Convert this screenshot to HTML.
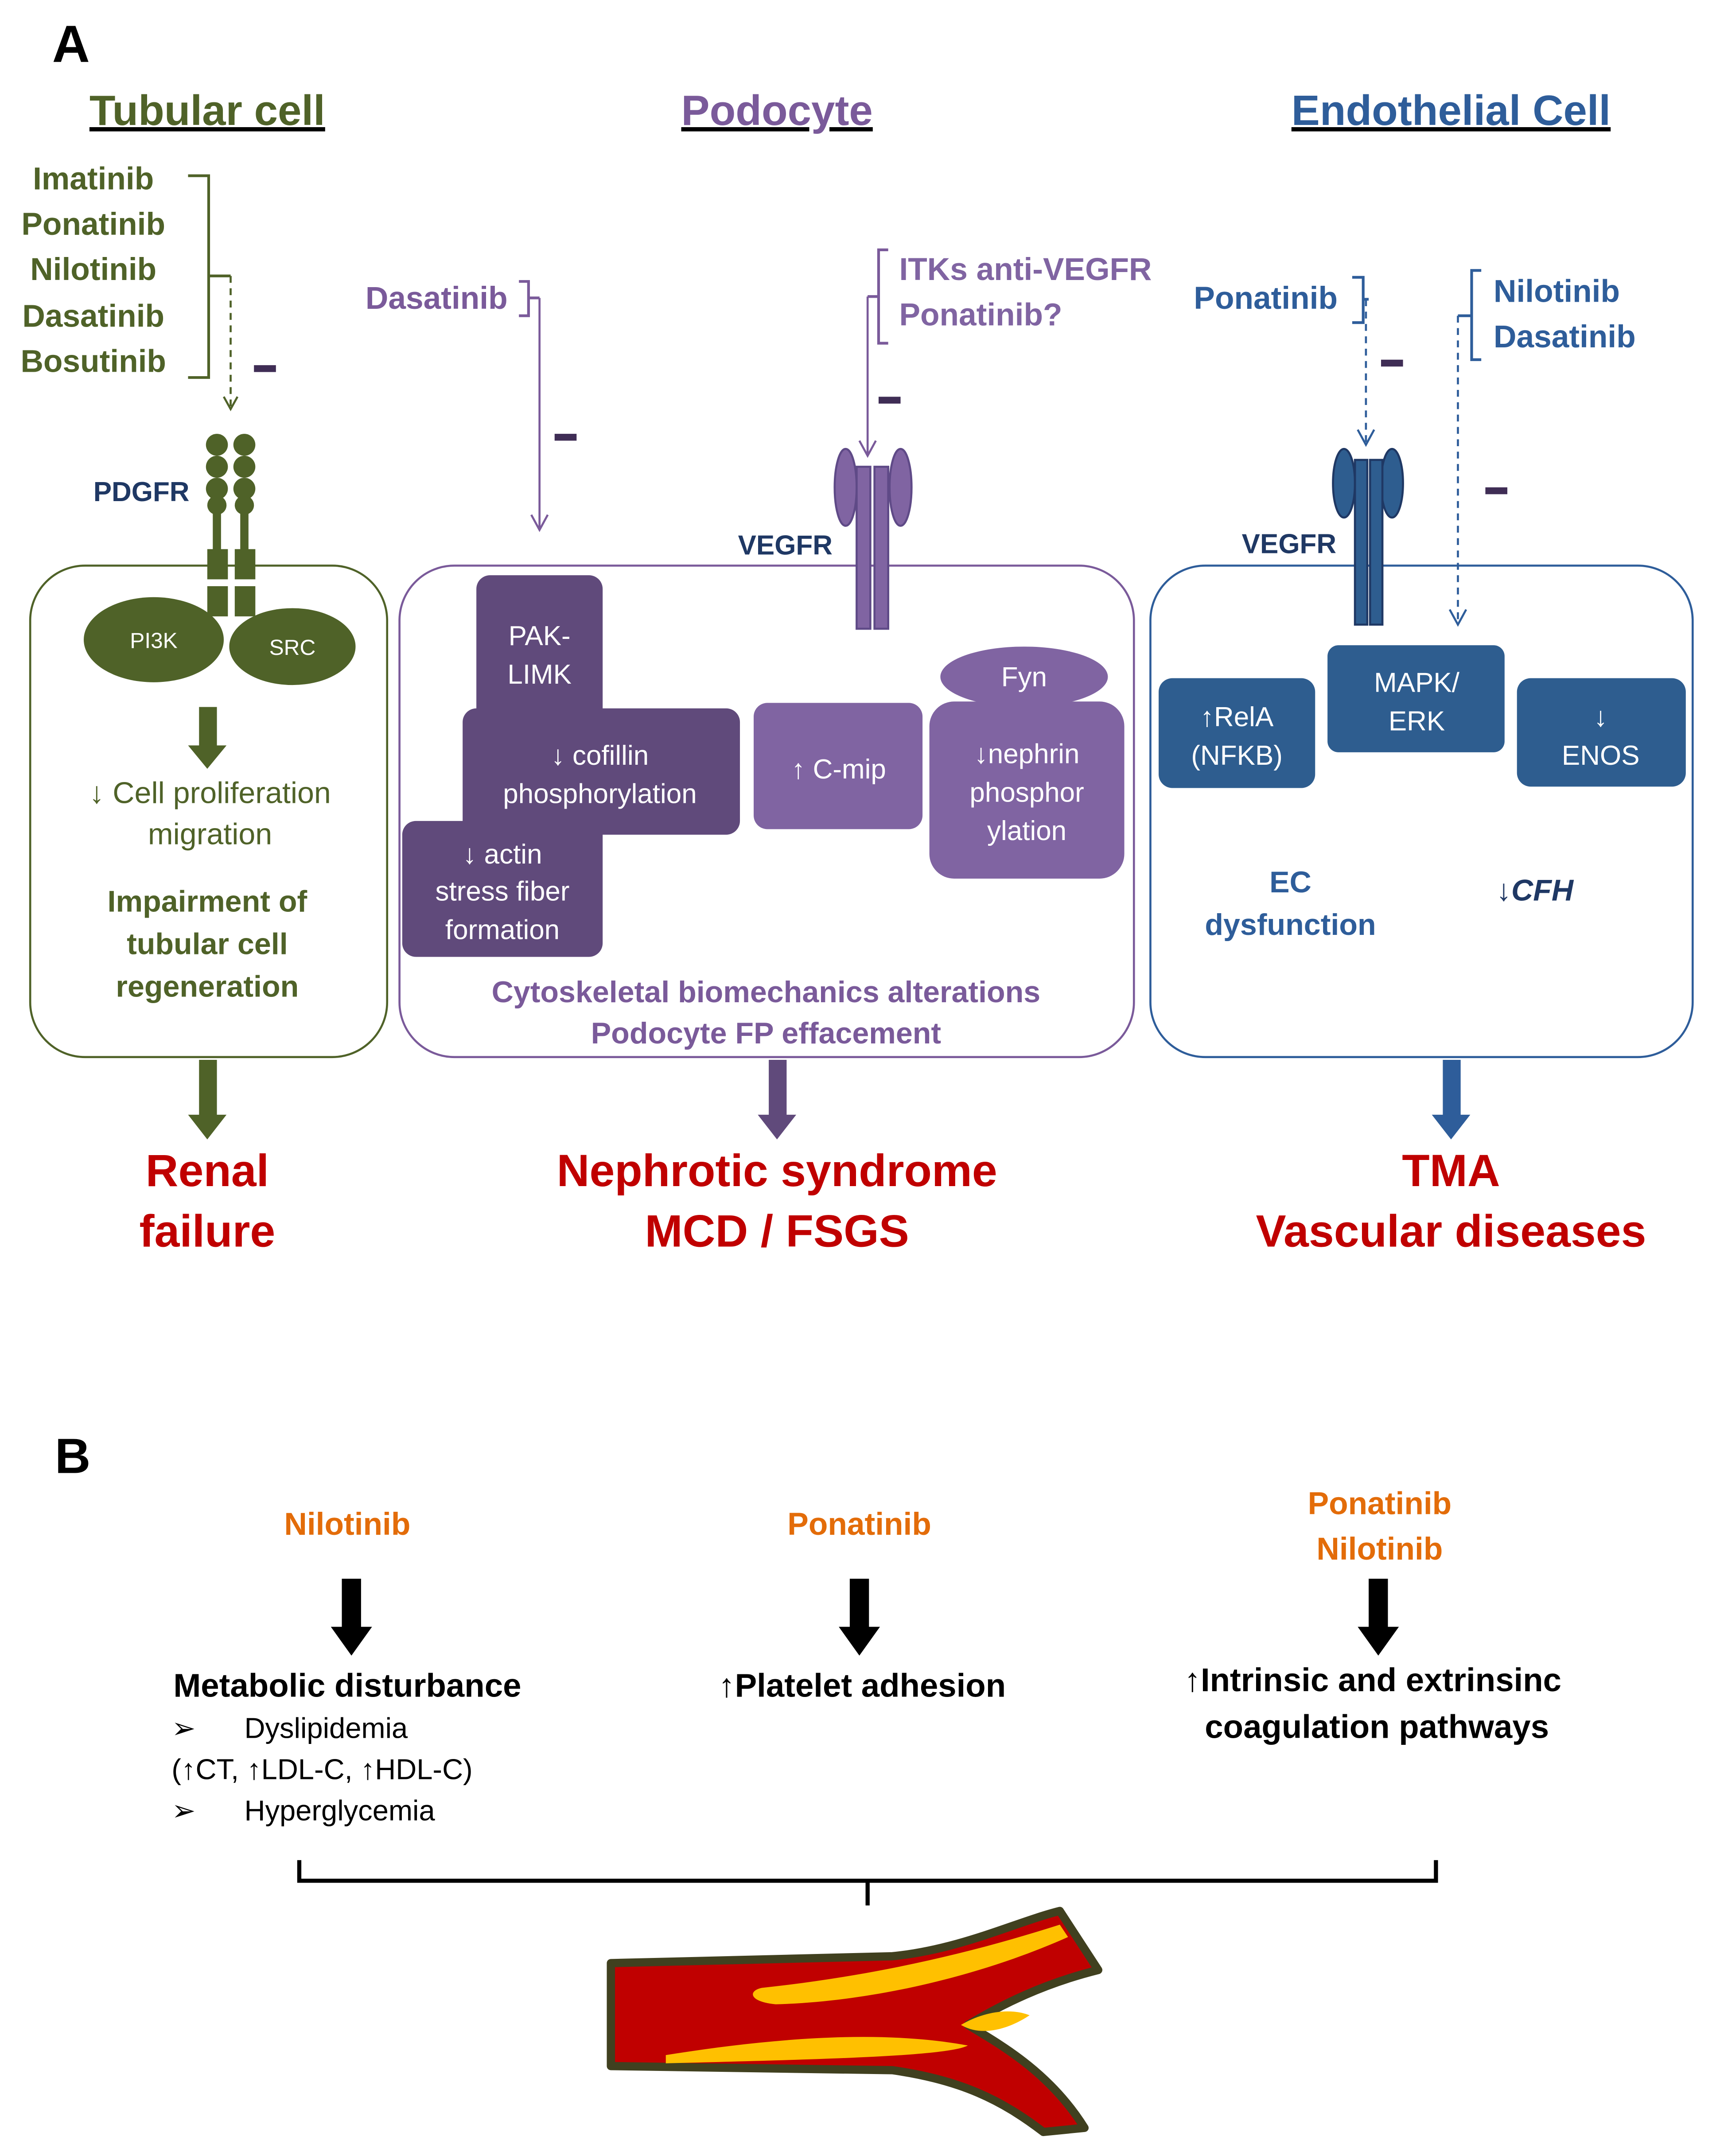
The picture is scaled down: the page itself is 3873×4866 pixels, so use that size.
<!DOCTYPE html>
<html><head><meta charset="utf-8"><style>
html,body{margin:0;padding:0;background:#fff;}
svg{display:block;}
text{font-family:"Liberation Sans","DejaVu Sans",sans-serif;}
</style></head><body>
<svg width="3873" height="4866" viewBox="0 0 1250 1570.5" preserveAspectRatio="none" xmlns="http://www.w3.org/2000/svg">
<defs>
<marker id="ag" markerWidth="14" markerHeight="14" refX="11" refY="7" orient="auto" markerUnits="userSpaceOnUse"><path d="M2,2 L11,7 L2,12" fill="none" stroke="#4f6228" stroke-width="1.5"/></marker>
<marker id="ap" markerWidth="16" markerHeight="16" refX="13" refY="8" orient="auto" markerUnits="userSpaceOnUse"><path d="M2,2 L13,8 L2,14" fill="none" stroke="#7a5a9a" stroke-width="1.5"/></marker>
<marker id="ab" markerWidth="16" markerHeight="16" refX="13" refY="8" orient="auto" markerUnits="userSpaceOnUse"><path d="M2,2 L13,8 L2,14" fill="none" stroke="#2e5d9a" stroke-width="1.5"/></marker>
</defs>
<rect width="1250" height="1571" fill="#fff"/>
<text x="38" y="45" font-size="38" font-weight="bold">A</text>
<g font-size="31" font-weight="bold" text-anchor="middle" text-decoration="underline">
<text x="151" y="91" fill="#4f6228">Tubular cell</text>
<text x="566" y="91" fill="#7a5a9a">Podocyte</text>
<text x="1057" y="91" fill="#2e5d9a">Endothelial Cell</text>
</g>
<!-- Tubular -->
<g font-size="23" font-weight="bold" fill="#4f6228" text-anchor="middle">
<text x="68" y="138">Imatinib</text><text x="68" y="171">Ponatinib</text><text x="68" y="204">Nilotinib</text><text x="68" y="238">Dasatinib</text><text x="68" y="271">Bosutinib</text>
</g>
<path d="M137,128 L152,128 L152,275 L137,275 M152,201 L168,201" fill="none" stroke="#4f6228" stroke-width="2"/>
<line x1="168" y1="201" x2="168" y2="298" stroke="#4f6228" stroke-width="1.5" stroke-dasharray="5,4" marker-end="url(#ag)"/>
<rect x="185" y="266" width="16" height="5" fill="#3f2d55"/>
<g fill="#4f6228">
<circle cx="158" cy="324" r="8"/><circle cx="158" cy="340" r="8"/><circle cx="158" cy="356" r="8"/><circle cx="158" cy="368" r="7"/>
<circle cx="178" cy="324" r="8"/><circle cx="178" cy="340" r="8"/><circle cx="178" cy="356" r="8"/><circle cx="178" cy="368" r="7"/>
<rect x="155" y="370" width="6" height="32"/><rect x="175" y="370" width="6" height="32"/>
<rect x="151" y="400" width="15" height="22"/><rect x="171" y="400" width="15" height="22"/>
<rect x="151" y="427" width="15" height="22"/><rect x="171" y="427" width="15" height="22"/>
</g>
<text x="103" y="365" font-size="20" font-weight="bold" fill="#1f3864" text-anchor="middle">PDGFR</text>
<rect x="22" y="412" width="260" height="358" rx="40" fill="none" stroke="#4f6228" stroke-width="1.5"/>
<ellipse cx="112" cy="466" rx="51" ry="31" fill="#4f6228"/>
<ellipse cx="213" cy="471" rx="46" ry="28" fill="#4f6228"/>
<text x="112" y="472" font-size="16" fill="#fff" text-anchor="middle">PI3K</text>
<text x="213" y="477" font-size="16" fill="#fff" text-anchor="middle">SRC</text>
<path d="M145,515 L158,515 L158,543 L165,543 L151,560 L137,543 L145,543 Z" fill="#4f6228"/>
<g font-size="22" fill="#4f6228" text-anchor="middle">
<text x="153" y="585">↓ Cell proliferation</text><text x="153" y="615">migration</text>
<text x="151" y="664" font-weight="bold">Impairment of</text><text x="151" y="695" font-weight="bold">tubular cell</text><text x="151" y="726" font-weight="bold">regeneration</text>
</g>
<path d="M145,772 L158,772 L158,812 L165,812 L151,830 L137,812 L145,812 Z" fill="#4f6228"/>
<g font-size="33" font-weight="bold" fill="#c00000" text-anchor="middle">
<text x="151" y="864">Renal</text><text x="151" y="908">failure</text>
<text x="566" y="864">Nephrotic syndrome</text><text x="566" y="908">MCD / FSGS</text>
<text x="1057" y="864">TMA</text><text x="1057" y="908">Vascular diseases</text>
</g>
<!-- Podocyte -->
<text x="318" y="225" font-size="23" font-weight="bold" fill="#7a5a9a" text-anchor="middle">Dasatinib</text>
<path d="M378,205 L385,205 L385,230 L378,230 M385,217 L393,217" fill="none" stroke="#7a5a9a" stroke-width="2"/>
<line x1="393" y1="217" x2="393" y2="386" stroke="#7a5a9a" stroke-width="1.5" marker-end="url(#ap)"/>
<rect x="404" y="316" width="16" height="5" fill="#3f2d55"/>
<path d="M647,182 L640,182 L640,250 L647,250 M640,216 L632,216" fill="none" stroke="#7a5a9a" stroke-width="2"/>
<line x1="632" y1="216" x2="632" y2="332" stroke="#7a5a9a" stroke-width="1.5" marker-end="url(#ap)"/>
<text x="655" y="204" font-size="23" font-weight="bold" fill="#8064a2">ITKs anti-VEGFR</text>
<text x="655" y="237" font-size="23" font-weight="bold" fill="#8064a2">Ponatinib?</text>
<rect x="640" y="289" width="16" height="5" fill="#3f2d55"/>
<rect x="291" y="412" width="535" height="358" rx="40" fill="none" stroke="#7a5a9a" stroke-width="1.5"/>
<g fill="#8064a2" stroke="#5f4a87" stroke-width="1.5">
<ellipse cx="616" cy="355" rx="8" ry="28"/><ellipse cx="656" cy="355" rx="8" ry="28"/>
<rect x="624" y="340" width="10" height="118"/><rect x="637" y="340" width="10" height="118"/>
</g>
<text x="572" y="404" font-size="20" font-weight="bold" fill="#1f3864" text-anchor="middle">VEGFR</text>
<g fill="#604a7b">
<rect x="347" y="419" width="92" height="125" rx="10"/>
<rect x="337" y="516" width="202" height="92" rx="10"/>
<rect x="293" y="598" width="146" height="99" rx="10"/>
</g>
<g fill="#8064a2">
<rect x="549" y="512" width="123" height="92" rx="10"/>
<ellipse cx="746" cy="493" rx="61" ry="22"/>
<rect x="677" y="511" width="142" height="129" rx="18"/>
</g>
<g font-size="20" fill="#fff" text-anchor="middle">
<text x="393" y="470">PAK-</text><text x="393" y="498">LIMK</text>
<text x="437" y="557">↓ cofillin</text><text x="437" y="585">phosphorylation</text>
<text x="366" y="629">↓ actin</text><text x="366" y="656">stress fiber</text><text x="366" y="684">formation</text>
<text x="611" y="567">↑ C-mip</text>
<text x="746" y="500">Fyn</text>
<text x="748" y="556">↓nephrin</text><text x="748" y="584">phosphor</text><text x="748" y="612">ylation</text>
</g>
<g font-size="22" font-weight="bold" fill="#7a5a9a" text-anchor="middle">
<text x="558" y="730">Cytoskeletal biomechanics alterations</text><text x="558" y="760">Podocyte FP effacement</text>
</g>
<path d="M560,772 L573,772 L573,812 L580,812 L566,830 L552,812 L560,812 Z" fill="#604a7b"/>
<!-- Endothelial -->
<text x="922" y="225" font-size="23" font-weight="bold" fill="#2e5d9a" text-anchor="middle">Ponatinib</text>
<path d="M985,202 L993,202 L993,235 L985,235 M993,218 L997,218" fill="none" stroke="#2e5d9a" stroke-width="2"/>
<line x1="995" y1="218" x2="995" y2="324" stroke="#2e5d9a" stroke-width="1.5" stroke-dasharray="5,4" marker-end="url(#ab)"/>
<rect x="1006" y="262" width="16" height="5" fill="#3f2d55"/>
<path d="M1079,197 L1072,197 L1072,262 L1079,262 M1072,230 L1062,230" fill="none" stroke="#2e5d9a" stroke-width="2"/>
<line x1="1062" y1="230" x2="1062" y2="455" stroke="#2e5d9a" stroke-width="1.5" stroke-dasharray="5,4" marker-end="url(#ab)"/>
<text x="1088" y="220" font-size="23" font-weight="bold" fill="#2e5d9a">Nilotinib</text>
<text x="1088" y="253" font-size="23" font-weight="bold" fill="#2e5d9a">Dasatinib</text>
<rect x="1082" y="355" width="16" height="5" fill="#3f2d55"/>
<rect x="838" y="412" width="395" height="358" rx="40" fill="none" stroke="#2e5d9a" stroke-width="1.5"/>
<g fill="#2e5d8f" stroke="#1f3864" stroke-width="1.5">
<ellipse cx="979" cy="352" rx="8" ry="25"/><ellipse cx="1014" cy="352" rx="8" ry="25"/>
<rect x="987" y="335" width="9" height="120"/><rect x="998" y="335" width="9" height="120"/>
</g>
<text x="939" y="403" font-size="20" font-weight="bold" fill="#1f3864" text-anchor="middle">VEGFR</text>
<g fill="#2e5d8f">
<rect x="844" y="494" width="114" height="80" rx="10"/>
<rect x="967" y="470" width="129" height="78" rx="8"/>
<rect x="1105" y="494" width="123" height="79" rx="10"/>
</g>
<g font-size="20" fill="#fff" text-anchor="middle">
<text x="901" y="529">↑RelA</text><text x="901" y="557">(NFKB)</text>
<text x="1032" y="504">MAPK/</text><text x="1032" y="532">ERK</text>
<text x="1166" y="529">↓</text><text x="1166" y="557">ENOS</text>
</g>
<text x="940" y="650" font-size="22" font-weight="bold" fill="#2e5d9a" text-anchor="middle">EC</text>
<text x="940" y="681" font-size="22" font-weight="bold" fill="#2e5d9a" text-anchor="middle">dysfunction</text>
<text x="1118" y="656" font-size="22" font-weight="bold" font-style="italic" fill="#1f3864" text-anchor="middle">↓CFH</text>
<path d="M1051,772 L1064,772 L1064,812 L1071,812 L1057,830 L1043,812 L1051,812 Z" fill="#2e5d9a"/>
<!-- B -->
<text x="40" y="1073" font-size="36" font-weight="bold">B</text>
<g font-size="23" font-weight="bold" fill="#e36c09" text-anchor="middle">
<text x="253" y="1118">Nilotinib</text><text x="626" y="1118">Ponatinib</text>
<text x="1005" y="1103">Ponatinib</text><text x="1005" y="1136">Nilotinib</text>
</g>
<g fill="#000">
<path d="M249,1150 L263,1150 L263,1185 L271,1185 L256,1206 L241,1185 L249,1185 Z"/>
<path d="M619,1150 L633,1150 L633,1185 L641,1185 L626,1206 L611,1185 L619,1185 Z"/>
<path d="M997,1150 L1011,1150 L1011,1185 L1019,1185 L1004,1206 L989,1185 L997,1185 Z"/>
</g>
<g font-size="24" font-weight="bold" fill="#000" text-anchor="middle">
<text x="253" y="1236">Metabolic disturbance</text>
<text x="628" y="1236">↑Platelet adhesion</text>
<text x="1000" y="1232">↑Intrinsic and extrinsinc</text>
<text x="1003" y="1266">coagulation pathways</text>
</g>
<g font-size="21" fill="#000">
<text x="125" y="1266">➢</text><text x="178" y="1266">Dyslipidemia</text>
<text x="125" y="1296">(↑CT, ↑LDL-C, ↑HDL-C)</text>
<text x="125" y="1326">➢</text><text x="178" y="1326">Hyperglycemia</text>
</g>
<path d="M218,1355 L218,1370 L1046,1370 L1046,1355 M632,1370 L632,1388" fill="none" stroke="#000" stroke-width="3"/>
<path d="M445,1430 L650,1425 C700,1420 740,1400 772,1392 L800,1435 C760,1445 730,1460 705,1475 C730,1490 765,1510 790,1550 L760,1553 C730,1530 700,1515 650,1508 L445,1505 Z" fill="#c00000" stroke="#40401f" stroke-width="6" stroke-linejoin="round"/>
<path d="M555,1448 C630,1440 700,1425 772,1402 L778,1411 C720,1437 640,1458 565,1460 C545,1458 545,1450 555,1448 Z" fill="#ffc000"/>
<path d="M485,1497 C560,1485 640,1478 705,1490 C690,1498 600,1500 485,1503 Z" fill="#ffc000"/>
<path d="M700,1475 C715,1466 735,1462 750,1468 C735,1478 715,1484 700,1475 Z" fill="#ffc000"/>
</svg>
</body></html>
